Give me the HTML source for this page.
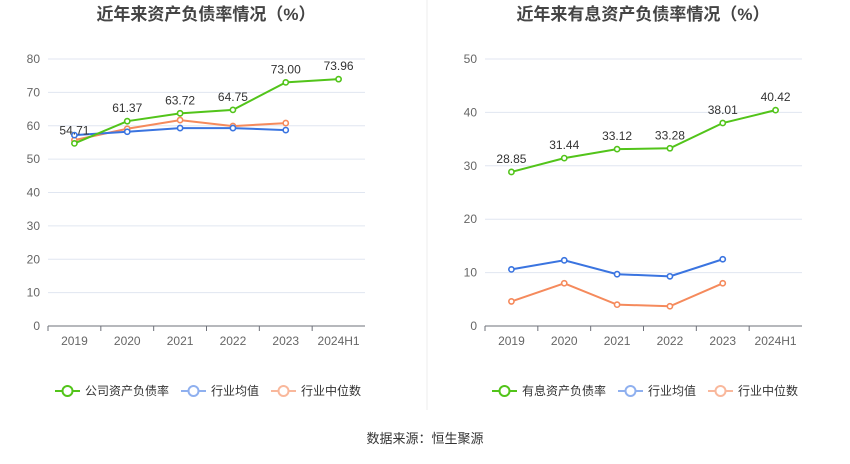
<!DOCTYPE html>
<html><head><meta charset="utf-8"><style>
body{margin:0;background:#fff;font-family:"Liberation Sans","Noto Sans CJK SC",sans-serif;}
svg text{font-family:"Liberation Sans","Noto Sans CJK SC",sans-serif;}
</style></head><body>
<svg id="s" width="850" height="459" xmlns="http://www.w3.org/2000/svg">
<line x1="427" y1="0" x2="427" y2="410" stroke="#eee"/>
<text x="425" y="443" text-anchor="middle" font-size="13" fill="#333">数据来源：恒生聚源</text>
</svg>
<script>
const years=["2019","2020","2021","2022","2023","2024H1"];
const leftTicks=[0,10,20,30,40,50,60,70,80];
const leftCompany=[54.71,61.37,63.72,64.75,73.00,73.96];
const leftAvg=[57.2,58.2,59.3,59.3,58.7];
const leftMed=[55.7,59.1,61.7,59.9,60.8];
const rightTicks=[0,10,20,30,40,50];
const rightCompany=[28.85,31.44,33.12,33.28,38.01,40.42];
const rightAvg=[10.6,12.3,9.7,9.3,12.5];
const rightMed=[4.6,8.0,4.0,3.7,8.0];
const NS="http://www.w3.org/2000/svg";
const svg=document.getElementById('s');
function mk(t,a,p){const e=document.createElementNS(NS,t);for(const k in a)e.setAttribute(k,a[k]);(p||svg).appendChild(e);return e;}
function chart(o){
  const g=mk('g',{});
  
  
  const x0=o.x0,x1=o.x0+317,yT=59,yB=326,max=o.ticks[o.ticks.length-1];
  const X=i=>x0+(i+0.5)*(317/6);
  const Y=v=>yB-(v/max)*(yB-yT);
  const t=mk('text',{x:x0+158,y:20,'text-anchor':'middle','font-size':17,'font-weight':'bold',fill:'#444'},g);t.textContent=o.title;
  
  
  o.ticks.forEach(v=>{
    if(v>0){const l=mk('line',{x1:x0,x2:x1,y1:Y(v),y2:Y(v),stroke:'#e0e6f1'},g);
    
    }
    const tx=mk('text',{x:x0-8,y:Y(v)+4,'text-anchor':'end','font-size':12,fill:'#666'},g);tx.textContent=v;
    
    
  });
  const ax=mk('line',{x1:x0,x2:x1,y1:yB,y2:yB,stroke:'#6e7079'},g);
  
  
  years.forEach((y,i)=>{
    const tk=mk('line',{x1:x0+i*317/6,x2:x0+i*317/6,y1:yB,y2:yB+5,stroke:'#6e7079'},g);
    
    
    const tx=mk('text',{x:X(i),y:yB+19,'text-anchor':'middle','font-size':12,fill:'#666'},g);tx.textContent=y;
    
    
  });
  const series=[[o.med,'#f58a5c','industry-median-line'],[o.avg,'#3a74e0','industry-average-line'],[o.comp,'#52c41a','company-line']];
  series.forEach(([d,c,n])=>{
    const p=mk('polyline',{points:d.map((v,i)=>X(i)+','+Y(v)).join(' '),fill:'none',stroke:c,'stroke-width':2},g);
    
    
    d.forEach((v,i)=>{const m=mk('circle',{cx:X(i),cy:Y(v),r:2.6,fill:'#fff',stroke:c,'stroke-width':1.6},g);
      
      });
  });
  o.comp.forEach((v,i)=>{const tx=mk('text',{x:X(i),y:Y(v)-9,'text-anchor':'middle','font-size':12,fill:'#333'},g);tx.textContent=v.toFixed(2);
    
    });
  const leg=[[o.legend,'#52c41a'],['行业均值','#8fb0ef'],['行业中位数','#f9b89c']];
  let lx=o.lx;
  leg.forEach(([s,c])=>{
    const lg=mk('g',{},g);
    
    
    mk('line',{x1:lx,x2:lx+25,y1:391,y2:391,stroke:c,'stroke-width':2},lg);
    mk('circle',{cx:lx+12.5,cy:391,r:5,fill:'#fff',stroke:c,'stroke-width':2},lg);
    const tx=mk('text',{x:lx+30,y:395,'font-size':12,fill:'#333'},lg);tx.textContent=s;
    lx+=30+s.length*12+12;
  });
}
chart({name:'left-chart',x0:48,title:'近年来资产负债率情况（%）',ticks:leftTicks,comp:leftCompany,avg:leftAvg,med:leftMed,legend:'公司资产负债率',lx:55});
chart({name:'right-chart',x0:485,title:'近年来有息资产负债率情况（%）',ticks:rightTicks,comp:rightCompany,avg:rightAvg,med:rightMed,legend:'有息资产负债率',lx:492});
</script>
</body></html>
